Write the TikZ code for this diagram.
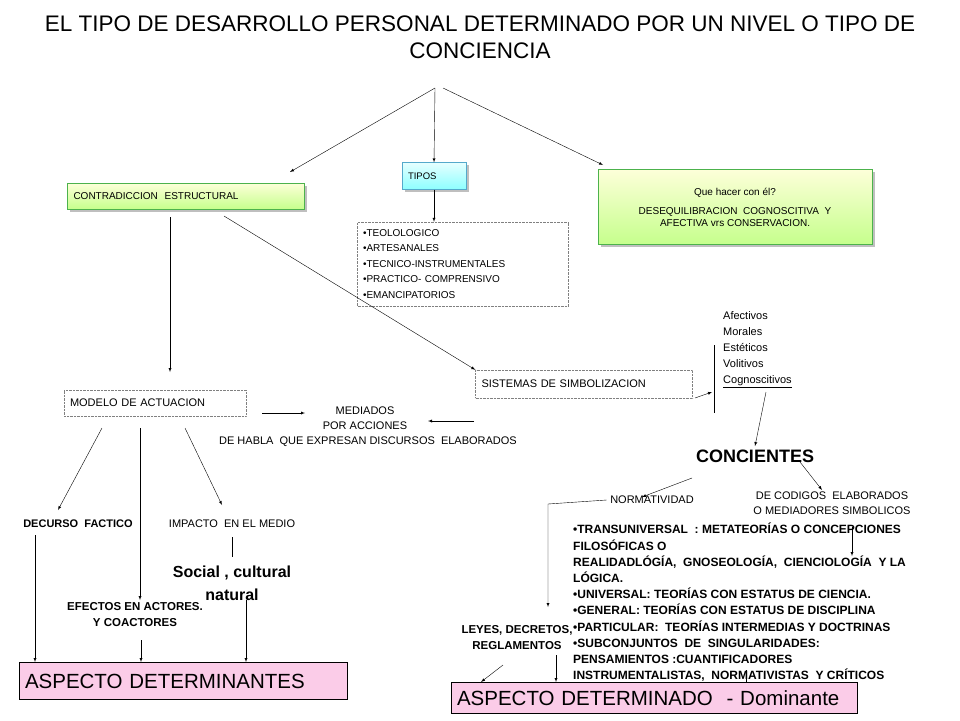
\documentclass[tikz,border=0pt]{standalone}
\usepackage{fontspec}
\setmainfont{Liberation Sans}
\usetikzlibrary{positioning,shadows}
\tikzset{
  arr/.style={->,>=latex},
  greenbox/.style={draw=green!40!gray,top color=green!5!yellow!15,bottom color=green!50!yellow!45,drop shadow,font=\fontsize{10}{12}\selectfont},
  bluebox/.style={draw=cyan!60!gray,top color=cyan!10,bottom color=cyan!45,drop shadow,font=\fontsize{9.5}{12}\selectfont},
  dotbox/.style={draw=gray,densely dotted,font=\fontsize{11}{13}\selectfont},
  pinkbox/.style={draw,fill=magenta!20,font=\fontsize{20.5}{22}\selectfont},
  small/.style={font=\fontsize{11}{15}\selectfont},
  boldsmall/.style={font=\bfseries\fontsize{11}{14}\selectfont}
}
\begin{document}
\begin{tikzpicture}[x=1pt,y=-1pt]
\useasboundingbox (0,0) rectangle (960,720);
% titulo
\node[align=center,font=\fontsize{22.5}{27}\selectfont] (title) at (480,37) {EL TIPO DE DESARROLLO PERSONAL DETERMINADO POR UN NIVEL O TIPO DE\\CONCIENCIA};
\coordinate (top) at (435,88);
\coordinate (top2) at (443,88);

% fila de arriba
\node[greenbox,minimum width=237,minimum height=26,text width=225,align=left] (contra) at (186,196) {CONTRADICCION\ \ ESTRUCTURAL};
\node[bluebox,minimum width=64,minimum height=27,text width=52,align=left] (tipos) at (434,176) {TIPOS};
\node[greenbox,minimum width=274,minimum height=75,align=center] (que) at (735,207) {Que hacer con él?\\[7pt]DESEQUILIBRACION\ \ COGNOSCITIVA\ \ Y\\AFECTIVA vrs CONSERVACION.};
\draw[arr] (top) -- (290,172);
\draw[arr] (top) -- (tipos.north);
\draw[arr] (top2) -- (603,165);

\node[dotbox,minimum width=211,minimum height=84,text width=200,align=left,font=\fontsize{10}{15.5}\selectfont] (lista) at (463,264) {•TEOLOLOGICO\\•ARTESANALES\\•TECNICO-INSTRUMENTALES\\•PRACTICO- COMPRENSIVO\\•EMANCIPATORIOS};
\draw[arr] (tipos.south) -- (tipos.south |- lista.north);

% centro
\node[dotbox,minimum width=182,minimum height=26,text width=170,align=left] (modelo) at (155,403) {MODELO DE ACTUACION};
\node[dotbox,minimum width=217,minimum height=28,text width=205,align=left] (sistemas) at (584,384) {SISTEMAS DE SIMBOLIZACION};
\draw[arr] (170,217) -- (170,372);
\draw[arr] (224,216) -- (sistemas.north west);

\node[small,align=center] (mediados) at (365,418) {MEDIADOS\\POR ACCIONES};
\node[small] (habla) at (368,442) {DE HABLA\ \ QUE EXPRESAN DISCURSOS\ \ ELABORADOS};
\draw[arr] (262,413) -- (305,413);
\draw[arr] (474,421) -- (428,421);

\node[small,align=left,anchor=north west,inner sep=0,font=\fontsize{11}{16}\selectfont] (valores) at (723,311) {Afectivos\\Morales\\Estéticos\\Volitivos\\\underline{Cognoscitivos}};
\coordinate (barT) at (714,345);
\coordinate (barB) at (714,413);
\draw (barT) -- (barB);
\draw[arr] (695,398) -- (712,392);

\node[font=\bfseries\fontsize{18}{20}\selectfont] (concientes) at (755,456) {CONCIENTES};
\draw[arr] (766,392) -- (concientes.north);

\node[small] (norma) at (652,500) {NORMATIVIDAD};
\node[small,align=center] (codigos) at (832,503) {DE CODIGOS\ \ ELABORADOS\\O MEDIADORES SIMBOLICOS};
\draw[arr] (692,478) -- (642,497);
\draw[arr] (800,462) -- (822,490);

\node[align=left,anchor=north west,inner sep=0,font=\bfseries\fontsize{12}{16.2}\selectfont] (niveles) at (573,523) {•TRANSUNIVERSAL\ \ : METATEORÍAS O CONCEPCIONES\\FILOSÓFICAS O\\REALIDADLÓGÍA,\ \ GNOSEOLOGÍA,\ \ CIENCIOLOGÍA\ \ Y LA\\LÓGICA.\\•UNIVERSAL: TEORÍAS CON ESTATUS DE CIENCIA.\\•GENERAL: TEORÍAS CON ESTATUS DE DISCIPLINA\\•PARTICULAR:\ \ TEORÍAS INTERMEDIAS Y DOCTRINAS\\•SUBCONJUNTOS\ \ DE\ \ SINGULARIDADES:\\PENSAMIENTOS :CUANTIFICADORES\\INSTRUMENTALISTAS,\ \ NORMATIVISTAS\ \ Y CRÍTICOS};
\draw[arr] (852,527) -- (852,556);
\draw[arr] (746,670) -- (746,690);

\draw[arr] (norma.west) -- (548,504) -- (548,607);
\node[align=center,font=\bfseries\fontsize{11.5}{16}\selectfont] (leyes) at (517,638) {LEYES, DECRETOS,\\REGLAMENTOS};
\node[pinkbox,minimum width=406,minimum height=31,text width=394,align=left] (determinado) at (654,698) {ASPECTO DETERMINADO\ \ - Dominante};
\draw[arr] (503,665) -- (481,682);
\draw[arr] (556,655) -- (556,682);

% izquierda abajo
\node[boldsmall] (decurso) at (78,524) {DECURSO\ \ FACTICO};
\node[small] (impacto) at (232,524) {IMPACTO\ \ EN EL MEDIO};
\node[font=\bfseries\fontsize{16}{23}\selectfont,align=center] (social) at (232,583) {Social , cultural\\natural};
\node[align=center,font=\bfseries\fontsize{11.5}{16}\selectfont] (efectos) at (135,615) {EFECTOS EN ACTORES.\\Y COACTORES};
\node[pinkbox,minimum width=328,minimum height=37,text width=316,align=left] (determinantes) at (183,681) {ASPECTO DETERMINANTES};
\draw[arr] (102,428) -- (58,510);
\draw[arr] (140,428) -- (140,600);
\draw[arr] (185,428) -- (222,505);
\draw (232,537) -- (232,557);
\draw[arr] (35,535) -- (35,662);
\draw[arr] (141,640) -- (141,662);
\draw[arr] (246,600) -- (246,662);
\end{tikzpicture}
\end{document}
